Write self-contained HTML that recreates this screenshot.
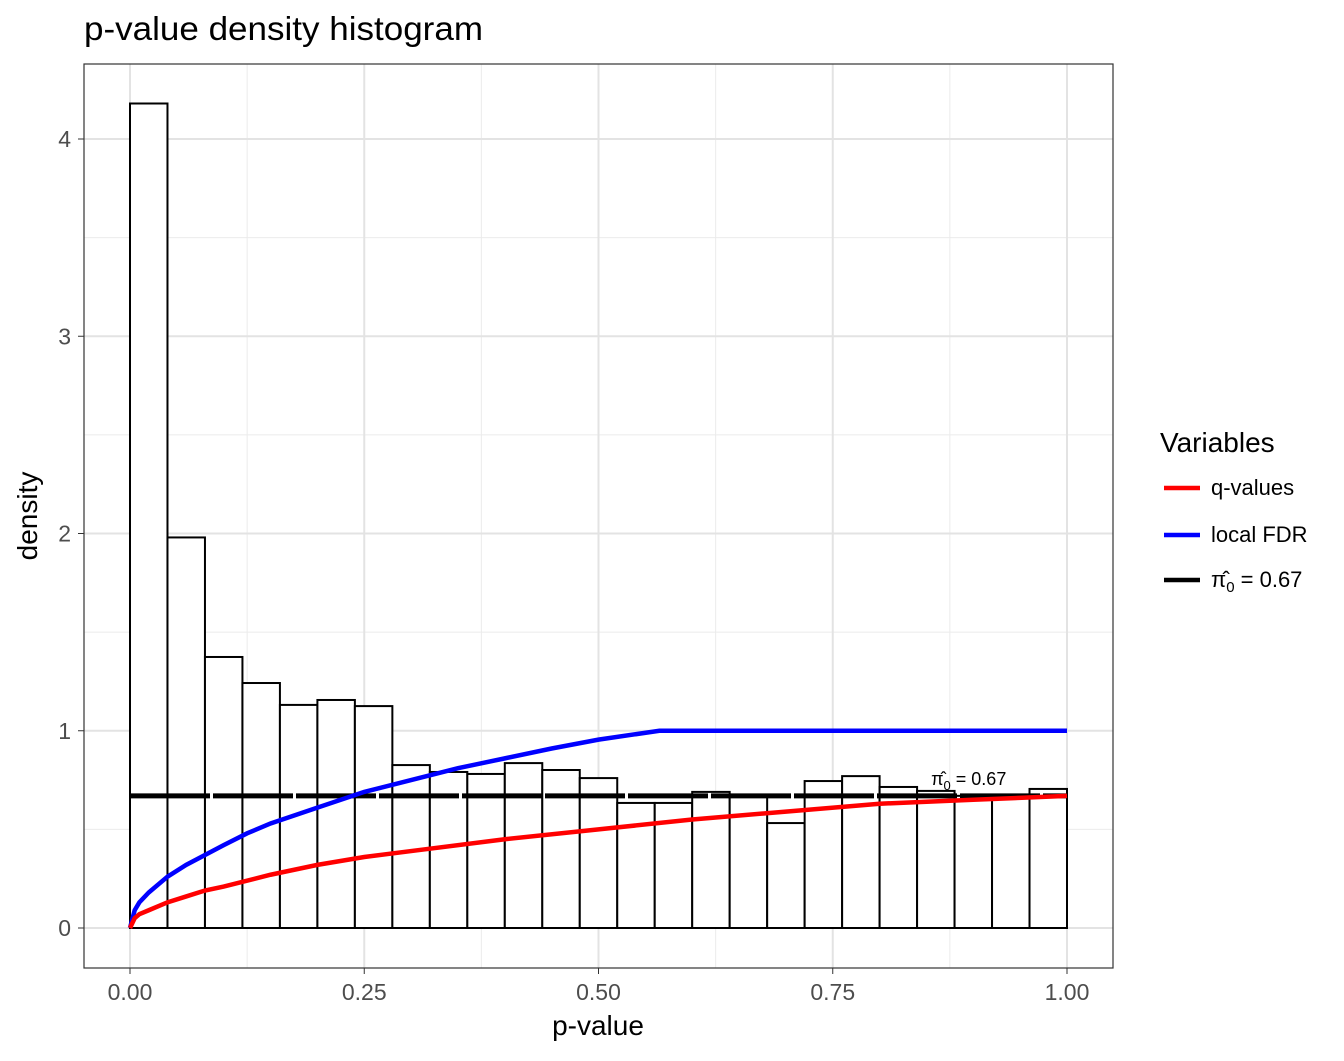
<!DOCTYPE html>
<html><head><meta charset="utf-8"><style>
body{margin:0;background:#fff;font-family:"Liberation Sans",Arial,sans-serif}
svg text{font-family:"Liberation Sans",Arial,sans-serif}
</style></head><body>
<svg id="c" width="1344" height="1056" xmlns="http://www.w3.org/2000/svg">
<text x="84" y="40" font-size="33" textLength="399" lengthAdjust="spacingAndGlyphs" fill="#000">p-value density histogram</text>
<g id="grid"></g>
<g id="bars"></g>
<g id="lines"></g>
<rect x="84" y="64" width="1029" height="904" fill="none" stroke="#333" stroke-width="1.2"/>
<g id="axes"></g>
<text x="598" y="1035" font-size="28" text-anchor="middle">p-value</text>
<text transform="translate(37,516) rotate(-90)" font-size="28" text-anchor="middle">density</text>
<g>
<text x="1160" y="452" font-size="28">Variables</text>
<g><line x1="1164" x2="1200" y1="488" y2="488" stroke="#f00" stroke-width="4.5"/><text x="1211" y="495" font-size="22">q-values</text></g>
<g><line x1="1164" x2="1200" y1="535" y2="535" stroke="#00f" stroke-width="4.5"/><text x="1211" y="542" font-size="22">local FDR</text></g>
<g><line x1="1164" x2="1200" y1="580" y2="580" stroke="#000" stroke-width="4.5"/><text x="1211" y="587" font-size="22">π̂<tspan font-size="15" dy="5">0</tspan><tspan dy="-5"> = 0.67</tspan></text></g>
</g>
</svg>
<script>
const binStarts=[0,0.04,0.08,0.12,0.16,0.2,0.24,0.28,0.32,0.36,0.4,0.44,0.48,0.52,0.56,0.6,0.64,0.68,0.72,0.76,0.8,0.84,0.88,0.92,0.96];
const densities=[4.18,1.98,1.374,1.242,1.131,1.156,1.125,0.826,0.791,0.781,0.836,0.801,0.76,0.634,0.634,0.69,0.67,0.532,0.745,0.77,0.715,0.695,0.67,0.67,0.705];
const fdrX=[0,0.005,0.01,0.02,0.04,0.06,0.08,0.1,0.125,0.15,0.2,0.25,0.3,0.35,0.4,0.45,0.5,0.565,1];
const fdrY=[0,0.09,0.13,0.18,0.26,0.32,0.37,0.42,0.48,0.53,0.61,0.69,0.75,0.81,0.86,0.91,0.955,1,1];
const qX=[0,0.005,0.01,0.02,0.04,0.06,0.08,0.1,0.15,0.2,0.25,0.3,0.4,0.5,0.6,0.7,0.8,0.9,1];
const qY=[0,0.05,0.07,0.09,0.13,0.16,0.19,0.21,0.27,0.32,0.36,0.39,0.45,0.5,0.55,0.59,0.63,0.65,0.67];
const pi0=0.67;
const xTicks=[0,0.25,0.5,0.75,1];const xLabels=["0.00","0.25","0.50","0.75","1.00"];
const yTicks=[0,1,2,3,4];
const NS="http://www.w3.org/2000/svg";
const X=v=>130+v*937, Y=v=>928-v*197.25;
function mk(t,a,p){const e=document.createElementNS(NS,t);for(const k in a)e.setAttribute(k,a[k]);p.appendChild(e);return e;}
const g=document.getElementById('grid'),b=document.getElementById('bars'),l=document.getElementById('lines'),ax=document.getElementById('axes');
for(let i=0;i<xTicks.length-1;i++){const m=(xTicks[i]+xTicks[i+1])/2;const e=mk('line',{x1:X(m),x2:X(m),y1:64,y2:968,stroke:'#ebebeb','stroke-width':1},g);

}
for(let i=0;i<yTicks.length-1;i++){const m=yTicks[i]+0.5;const e=mk('line',{x1:84,x2:1113,y1:Y(m),y2:Y(m),stroke:'#ebebeb','stroke-width':1},g);

}
xTicks.forEach((t,i)=>{const e=mk('line',{x1:X(t),x2:X(t),y1:64,y2:968,stroke:'#e3e3e3','stroke-width':2},g);


mk('line',{x1:X(t),x2:X(t),y1:968,y2:974,stroke:'#333'},ax);
const s=mk('text',{x:X(t),y:1000,'font-size':23,'text-anchor':'middle',fill:'#4d4d4d'},ax);s.textContent=xLabels[i];

});
yTicks.forEach(t=>{const e=mk('line',{x1:84,x2:1113,y1:Y(t),y2:Y(t),stroke:'#e3e3e3','stroke-width':2},g);


mk('line',{x1:78,x2:84,y1:Y(t),y2:Y(t),stroke:'#333'},ax);
const s=mk('text',{x:71,y:Y(t)+8,'font-size':23,'text-anchor':'end',fill:'#4d4d4d'},ax);s.textContent=t;

});
binStarts.forEach((s,i)=>{const r=mk('rect',{x:X(s),y:Y(densities[i]),width:X(s+0.04)-X(s),height:Y(0)-Y(densities[i]),fill:'#fff',stroke:'#000','stroke-width':2},b);

});
const pl=(xs,ys)=>xs.map((x,i)=>X(x)+','+Y(ys[i])).join(' ');
let e=mk('line',{x1:X(0),x2:X(1),y1:Y(pi0),y2:Y(pi0),stroke:'#000','stroke-width':5,'stroke-dasharray':'80 3'},l);


e=mk('polyline',{points:pl(fdrX,fdrY),fill:'none',stroke:'#00f','stroke-width':4.5},l);


e=mk('polyline',{points:pl(qX,qY),fill:'none',stroke:'#f00','stroke-width':4.5},l);


const an=mk('text',{x:X(0.855),y:Y(pi0)-11,'font-size':18},l);
an.innerHTML='π̂<tspan font-size="13" dy="5">0</tspan><tspan dy="-5"> = 0.67</tspan>';


</script>
</body></html>
